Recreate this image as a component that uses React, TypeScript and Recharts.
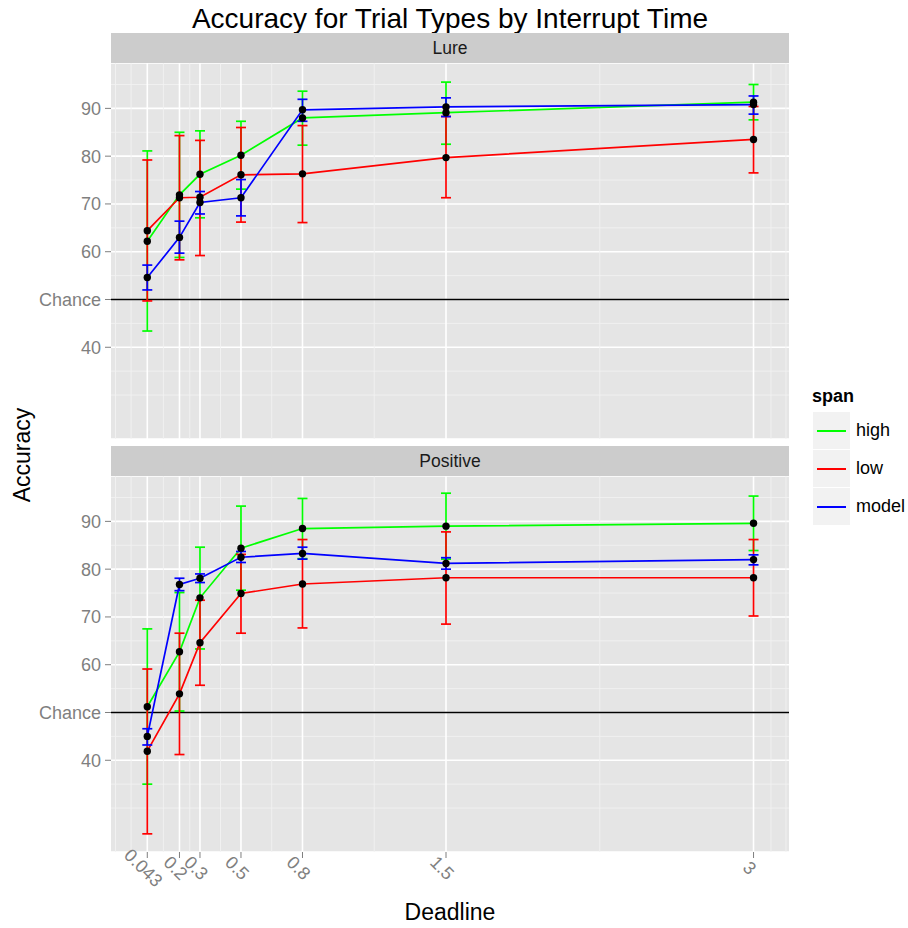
import React from 'react'
import {
  ComposedChart, Line, Scatter, XAxis, YAxis, CartesianGrid, ReferenceLine, ErrorBar
} from 'recharts'

const deadlines = [0.043, 0.2, 0.3, 0.5, 0.8, 1.5, 3]
const xTickLabels = ['0.043', '0.2', '0.3', '0.5', '0.8', '1.5', '3']
const yTicks = [40, 50, 60, 70, 80, 90]
const xMinor = [-0.112, -0.036, 0.1215, 0.25, 0.4, 0.65, 1.15, 2.25, 3.085, 3.158]
const yMinor = [30, 35, 45, 55, 65, 75, 85, 95]

// Lure panel
const lureHigh = [62.2, 71.9, 76.2, 80.2, 88.0, 89.1, 91.3]
const lureHighLo = [43.4, 58.8, 67.1, 73.1, 82.3, 82.5, 87.6]
const lureHighHi = [81.1, 85.0, 85.3, 87.3, 93.6, 95.5, 95.0]
const lureLow = [64.4, 71.3, 71.4, 76.1, 76.3, 79.7, 83.5]
const lureLowLo = [49.7, 58.3, 59.2, 66.2, 66.1, 71.3, 76.5]
const lureLowHi = [79.2, 84.3, 83.3, 86.0, 86.4, 88.3, 90.4]
const lureModel = [54.6, 63.0, 70.3, 71.3, 89.7, 90.3, 90.8]
const lureModelLo = [52.0, 59.7, 67.9, 67.5, 87.3, 88.3, 88.8]
const lureModelHi = [57.2, 66.4, 72.6, 75.1, 91.9, 92.2, 92.6]

// Positive panel
const posHigh = [51.2, 62.7, 74.0, 84.4, 88.5, 89.0, 89.6]
const posHighLo = [35.0, 50.3, 63.3, 75.6, 82.2, 82.1, 83.9]
const posHighHi = [67.5, 75.1, 84.6, 93.2, 94.8, 95.9, 95.3]
const posLow = [41.9, 53.9, 64.6, 74.9, 76.9, 78.2, 78.2]
const posLowLo = [24.6, 41.2, 55.7, 66.6, 67.7, 68.5, 70.2]
const posLowHi = [59.1, 66.6, 73.5, 83.1, 86.2, 87.8, 86.2]
const posModel = [45.0, 76.8, 78.1, 82.5, 83.3, 81.2, 82.0]
const posModelLo = [43.2, 75.5, 77.2, 81.4, 82.1, 80.0, 80.9]
const posModelHi = [46.6, 78.1, 79.0, 83.7, 84.6, 82.4, 83.0]

const series = [
  { key: 'high', color: '#00ff00' },
  { key: 'low', color: '#ff0000' },
  { key: 'model', color: '#0000ff' },
]

const xDomain = [-0.134, 3.173]
const yDomain = [20.8, 99.5]

function buildRows(h, hLo, hHi, l, lLo, lHi, m, mLo, mHi) {
  return deadlines.map((x, i) => ({
    x,
    high: h[i], highErr: [h[i] - hLo[i], hHi[i] - h[i]],
    low: l[i], lowErr: [l[i] - lLo[i], lHi[i] - l[i]],
    model: m[i], modelErr: [m[i] - mLo[i], mHi[i] - m[i]],
  }))
}

const lureRows = buildRows(lureHigh, lureHighLo, lureHighHi, lureLow, lureLowLo, lureLowHi, lureModel, lureModelLo, lureModelHi)
const posRows = buildRows(posHigh, posHighLo, posHighHi, posLow, posLowLo, posLowHi, posModel, posModelLo, posModelHi)

const grey = '#7f7f7f'

function XTick(props: any) {
  const { x, y, payload } = props
  const label = xTickLabels[deadlines.indexOf(payload.value)]
  const cx = x - 4
  const cy = y + 10
  return (
    <text x={cx} y={cy} textAnchor="middle" dominantBaseline="central"
      transform={`rotate(45 ${cx} ${cy})`} fill={grey} fontSize={18}>
      {label}
    </text>
  )
}

const Dot = (p: any) => <circle cx={p.cx} cy={p.cy} r={3.7} fill="#000" />

function Facet({ rows, top, showX }: any) {
  const height = showX ? 436 : 376
  return (
    <div style={{ position: 'absolute', left: 0, top }}>
      <ComposedChart width={908} height={height} data={rows} margin={{ top: 0, right: 119, bottom: 0, left: 0 }}>
        <CartesianGrid fill="#e5e5e5" stroke="#ffffff" strokeWidth={1.6} vertical={false} />
        {xMinor.map(v => <ReferenceLine key={'xm' + v} x={v} stroke="#f2f2f2" strokeWidth={0.9} />)}
        {yMinor.map(v => <ReferenceLine key={'ym' + v} y={v} stroke="#f2f2f2" strokeWidth={0.9} />)}
        {deadlines.map(v => <ReferenceLine key={'xg' + v} x={v} stroke="#ffffff" strokeWidth={1.6} />)}
        <XAxis dataKey="x" type="number" domain={xDomain} ticks={deadlines} allowDataOverflow interval={0}
          height={showX ? 60 : 0} axisLine={false}
          tickLine={showX ? { stroke: grey } : false} tickSize={6} tickMargin={0}
          tick={showX ? <XTick /> : false} />
        <YAxis type="number" domain={yDomain} ticks={yTicks} allowDataOverflow interval={0}
          width={111} axisLine={false} tickLine={{ stroke: grey }} tickSize={6} tickMargin={4}
          tick={{ fill: grey, fontSize: 18 }}
          tickFormatter={(v: number) => (v === 50 ? 'Chance' : String(v))} />
        <ReferenceLine y={50} stroke="#000" strokeWidth={1.5} />
        {series.map(s => (
          <Line key={s.key} dataKey={s.key} stroke={s.color} strokeWidth={1.7} dot={false} activeDot={false}
            isAnimationActive={false}>
            <ErrorBar dataKey={s.key + 'Err'} width={5} stroke={s.color} strokeWidth={1.7} direction="y" />
          </Line>
        ))}
        {series.map(s => (
          <Scatter key={'pt' + s.key} dataKey={s.key} shape={Dot} isAnimationActive={false} />
        ))}
      </ComposedChart>
    </div>
  )
}

function Strip({ top, label }: any) {
  return (
    <div style={{
      position: 'absolute', left: 111, top, width: 678, height: 30, background: '#cccccc',
      textAlign: 'center', lineHeight: '30px', fontSize: 17.5, color: '#1a1a1a'
    }}>{label}</div>
  )
}

export default function App() {
  return (
    <div style={{
      position: 'absolute', left: 0, top: 0, width: 908, height: 928, background: '#fff',
      fontFamily: '"Liberation Sans", Arial, Helvetica, sans-serif'
    }}>
      <div style={{ position: 'absolute', left: 111, top: 3, width: 678, textAlign: 'center', fontSize: 28, lineHeight: '32px' }}>
        Accuracy for Trial Types by Interrupt Time
      </div>
      <Strip top={33} label="Lure" />
      <Facet rows={lureRows} top={63} showX={false} />
      <Strip top={446} label="Positive" />
      <Facet rows={posRows} top={476} showX={true} />
      <div style={{ position: 'absolute', left: 22, top: 455, transform: 'translate(-50%, -50%) rotate(-90deg)', fontSize: 23, whiteSpace: 'nowrap' }}>
        Accuracy
      </div>
      <div style={{ position: 'absolute', left: 450, top: 912, transform: 'translate(-50%, -50%)', fontSize: 23, whiteSpace: 'nowrap' }}>
        Deadline
      </div>
      <div style={{ position: 'absolute', left: 812, top: 386, fontSize: 18, fontWeight: 'bold', lineHeight: '20px' }}>span</div>
      {series.map((s, i) => (
        <div key={s.key}>
          <div style={{ position: 'absolute', left: 813, top: 412 + 38 * i, width: 37, height: 37, background: '#f2f2f2' }}>
            <div style={{ position: 'absolute', left: 4, right: 4, top: 17.5, height: 2, background: s.color }} />
          </div>
          <div style={{ position: 'absolute', left: 856, top: 412 + 38 * i + 8, fontSize: 18, lineHeight: '20px' }}>{s.key}</div>
        </div>
      ))}
    </div>
  )
}
